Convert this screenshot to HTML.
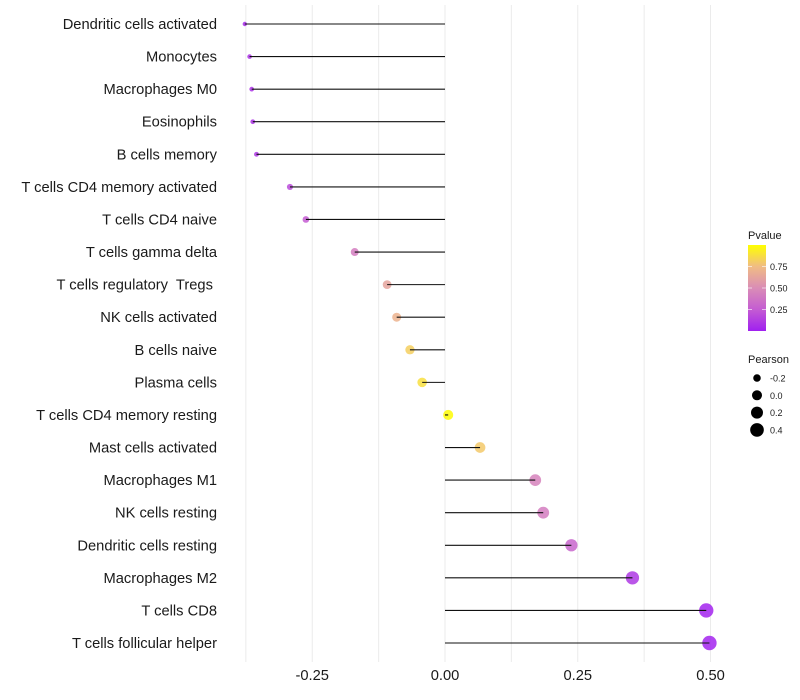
<!DOCTYPE html>
<html><head><meta charset="utf-8">
<style>
body{margin:0;background:#fff;}
svg{display:block;font-family:"Liberation Sans",sans-serif;}
text{white-space:pre;}
</style></head>
<body>
<svg id="chart" width="800" height="700">
<defs>
<linearGradient id="pgrad" x1="0" y1="1" x2="0" y2="0">
<stop offset="0" stop-color="#A020F0"/>
<stop offset="0.25" stop-color="#C45CD2"/>
<stop offset="0.5" stop-color="#DA8DB6"/>
<stop offset="0.75" stop-color="#F0BC84"/>
<stop offset="1" stop-color="#FFFF00"/>
</linearGradient>
</defs>
<g id="grid"></g>
<g id="marks"></g>
<g id="ylabels"></g>
<g id="xlabels"></g>
<g id="legend"></g>
</svg>
<script>
const categories = ["Dendritic cells activated","Monocytes","Macrophages M0","Eosinophils","B cells memory","T cells CD4 memory activated","T cells CD4 naive","T cells gamma delta","T cells regulatory  Tregs ","NK cells activated","B cells naive","Plasma cells","T cells CD4 memory resting","Mast cells activated","Macrophages M1","NK cells resting","Dendritic cells resting","Macrophages M2","T cells CD8","T cells follicular helper"];
const pearson = [-0.377,-0.368,-0.364,-0.362,-0.355,-0.292,-0.262,-0.170,-0.109,-0.091,-0.066,-0.043,0.006,0.066,0.170,0.185,0.238,0.353,0.492,0.498];
const pvalue = [0.05,0.08,0.08,0.08,0.10,0.18,0.25,0.42,0.62,0.70,0.82,0.88,0.99,0.80,0.45,0.42,0.30,0.10,0.02,0.02];
const xTicks = [-0.25,0,0.25,0.5];
const xTickLabels = ["-0.25","0.00","0.25","0.50"];
const xGrid = [-0.375,-0.25,-0.125,0,0.125,0.25,0.375,0.5];
const legendPTicks = [0.25,0.5,0.75];
const legendSizes = [-0.2,0.0,0.2,0.4];

const NS="http://www.w3.org/2000/svg";
function mk(tag,attrs,parent){const e=document.createElementNS(NS,tag);for(const k in attrs)e.setAttribute(k,attrs[k]);parent.appendChild(e);return e;}
const X=v=>445+v*531;
const Y=i=>24+i*(643-24)/(categories.length-1);
const R=v=>Math.sqrt(4.84+(v+0.377)/0.875*47);
const stops=[[0,[160,32,240]],[0.25,[196,92,210]],[0.5,[218,141,182]],[0.75,[240,188,132]],[1,[255,255,0]]];
function col(p){for(let i=1;i<stops.length;i++){if(p<=stops[i][0]){const a=stops[i-1],b=stops[i],t=(p-a[0])/(b[0]-a[0]);const c=a[1].map((v,j)=>Math.round(v+(b[1][j]-v)*t));return `rgb(${c})`;}}return "rgb(255,255,0)";}

const grid=document.getElementById('grid');
xGrid.forEach(v=>{const l=mk('line',{x1:X(v),x2:X(v),y1:5,y2:662,stroke:'#ebebeb','stroke-width':1},grid);

});

const marks=document.getElementById('marks');
const yl=document.getElementById('ylabels');
categories.forEach((c,i)=>{
  const y=Y(i);
  const pt=mk('circle',{cx:X(pearson[i]),cy:y,r:R(pearson[i]),fill:col(pvalue[i]),'fill-opacity':0.85},marks);
  
  
  const sg=mk('line',{x1:X(0),x2:X(pearson[i]),y1:y,y2:y,stroke:'#111','stroke-width':1.1},marks);
  
  
  const t=mk('text',{x:217,y:y+5,'text-anchor':'end','font-size':14.7,fill:'#1a1a1a'},yl);
  t.textContent=c;
  
  
});

const xl=document.getElementById('xlabels');
xTicks.forEach((v,i)=>{const t=mk('text',{x:X(v),y:680,'text-anchor':'middle','font-size':14.7,fill:'#1a1a1a'},xl);
t.textContent=xTickLabels[i];

});

const lg=document.getElementById('legend');
const pt=mk('text',{x:748,y:239,'font-size':11,fill:'#1a1a1a'},lg);pt.textContent='Pvalue';


const bar=mk('rect',{x:748,y:245,width:18,height:86,fill:'url(#pgrad)'},lg);


const LY=p=>331-p*86;
legendPTicks.forEach(p=>{
  mk('line',{x1:748,x2:752,y1:LY(p),y2:LY(p),stroke:'#fff','stroke-opacity':0.6},lg);
  mk('line',{x1:762,x2:766,y1:LY(p),y2:LY(p),stroke:'#fff','stroke-opacity':0.6},lg);
  const t=mk('text',{x:770,y:LY(p)+3.5,'font-size':9,fill:'#1a1a1a'},lg);t.textContent=p.toFixed(2);
  
  
});
const st=mk('text',{x:748,y:363,'font-size':11,fill:'#1a1a1a'},lg);st.textContent='Pearson';


legendSizes.forEach((s,i)=>{
  const y=378+i*17.3;
  const c=mk('circle',{cx:757,cy:y,r:R(s),fill:'#000'},lg);
  
  
  const t=mk('text',{x:770,y:y+3.5,'font-size':9,fill:'#1a1a1a'},lg);t.textContent=s.toFixed(1);
  
  
});
</script>
</body></html>
